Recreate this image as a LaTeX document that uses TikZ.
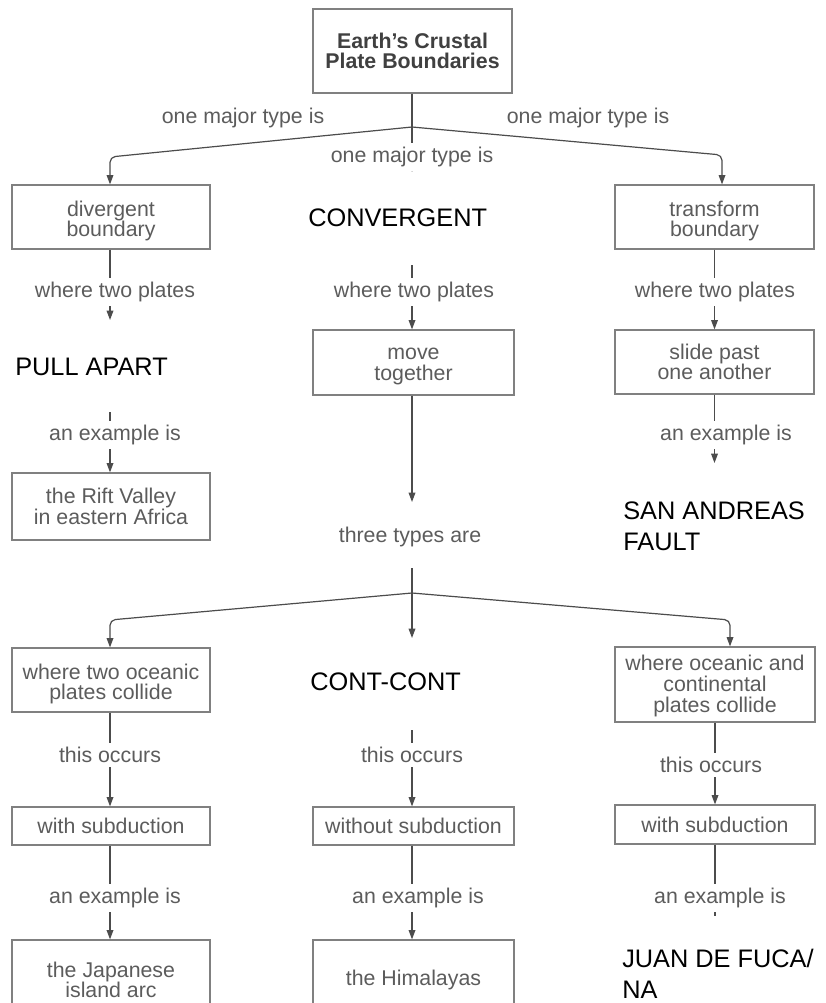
\documentclass[tikz,border=0pt]{standalone}
\usepackage{fontspec}
\setmainfont{Liberation Sans}
\usetikzlibrary{arrows.meta}
\definecolor{txtgray}{gray}{0.36}
\definecolor{linegray}{gray}{0.30}
\definecolor{boxgray}{gray}{0.50}
\newcommand\gfont{\fontsize{16}{15.5}\selectfont}
\newcommand\afont{\fontsize{19}{23.5}\selectfont}
\newcommand\dnstrut{\rule{0pt}{17.5pt}}
\tikzset{
  box/.style={draw=boxgray, line width=0.9pt, text=txtgray, align=center, inner sep=0pt, font=\gfont},
  lbl/.style={text=txtgray, fill=white, inner xsep=1pt, inner ysep=3pt, font=\gfont},
  ans/.style={text=black, align=left, inner sep=0pt, anchor=west, font=\afont},
  conn/.style={draw=linegray, line width=0.9pt, -{Triangle[length=7pt,width=5pt]}},
  plainline/.style={draw=linegray, line width=0.9pt},
}
\begin{document}
\begin{tikzpicture}[x=0.75pt, y=-0.75pt]
\fill[white] (0,0) rectangle (825,1003);
\useasboundingbox (0,0) rectangle (825,1003);

% boxes
\node[box, text=black!75, font=\gfont\bfseries, minimum width=199*0.75pt, minimum height=84*0.75pt] (title) at (412.5,51) {Earth's Crustal\\Plate Boundaries};
\node[box, minimum width=198*0.75pt, minimum height=64*0.75pt] (div) at (111,217) {\dnstrut divergent\\boundary};
\node[box, minimum width=199*0.75pt, minimum height=64*0.75pt] (trans) at (714.5,217) {\dnstrut transform\\boundary};
\node[box, minimum width=201*0.75pt, minimum height=65*0.75pt] (move) at (413.5,362.5) {\rule{0pt}{15pt}move\\together};
\node[box, minimum width=199*0.75pt, minimum height=64*0.75pt] (slide) at (714.5,362) {slide past\\one another};
\node[box, minimum width=198*0.75pt, minimum height=67*0.75pt] (rift) at (111,506.5) {the Rift Valley\\in eastern Africa};
\node[box, minimum width=198*0.75pt, minimum height=64*0.75pt] (oce) at (111,680) {\dnstrut where two oceanic\\plates collide};
\node[box, minimum width=200*0.75pt, minimum height=75*0.75pt] (ocont) at (715,684.5) {\rule{0pt}{14pt}where oceanic and\\continental\\plates collide};
\node[box, minimum width=198*0.75pt, minimum height=38*0.75pt] (withsub1) at (111,826) {with subduction};
\node[box, minimum width=201*0.75pt, minimum height=38*0.75pt] (without) at (413.5,826) {without subduction};
\node[box, minimum width=200*0.75pt, minimum height=39*0.75pt] (withsub2) at (715,824.5) {with subduction};
\node[box, minimum width=198*0.75pt, minimum height=80*0.75pt] (japan) at (111,980) {the Japanese\\island arc};
\node[box, minimum width=201*0.75pt, minimum height=80*0.75pt] (hima) at (413.5,980) {the Himalayas};

% answers
\node[ans] (pull) at (15,367) {PULL APART};
\node[ans] (conv) at (308,218) {CONVERGENT};
\node[ans] (san) at (623,526) {SAN ANDREAS\\FAULT};
\node[ans] (cc) at (310,682) {CONT-CONT};
\node[ans] (juan) at (622,974) {JUAN DE FUCA/\\NA};

% coordinates
\coordinate (br1) at (412,127);
\coordinate (cl1) at (110,157);
\coordinate (cr1) at (722,155);
\coordinate (t1) at (412,172);
\coordinate (s1) at (110,320);
\coordinate (s2) at (110,412);
\coordinate (s3) at (412,265);
\coordinate (s4) at (412,502);
\coordinate (s5) at (714.5,463);
\coordinate (s6) at (412,568);
\coordinate (s7) at (412,638);
\coordinate (br2) at (412,593);
\coordinate (cl2) at (110,620);
\coordinate (cr2) at (730,620);
\coordinate (s8) at (412,730);
\coordinate (s9) at (715,916);

% connectors
\draw[conn] (title.south -| t1) -- (t1);
\draw[conn, rounded corners=4pt] (br1) -- (cl1) -- (cl1 |- div.north);
\draw[conn, rounded corners=4pt] (br1) -- (cr1) -- (cr1 |- trans.north);
\draw[conn] (div.south -| s1) -- (s1);
\draw[conn] (s2) -- (s2 |- rift.north);
\draw[conn] (s3) -- (s3 |- move.north);
\draw[conn] (s4 |- move.south) -- (s4);
\draw[conn] (trans.south) -- (slide.north);
\draw[conn] (slide.south) -- (s5);
\draw[conn] (s6) -- (s7);
\draw[conn, rounded corners=4pt] (br2) -- (cl2) -- (cl2 |- oce.north);
\draw[conn, rounded corners=4pt] (br2) -- (cr2) -- (cr2 |- ocont.north);
\draw[conn] (oce.south -| cl2) -- (cl2 |- withsub1.north);
\draw[conn] (withsub1.south -| cl2) -- (cl2 |- japan.north);
\draw[conn] (s8) -- (s8 |- without.north);
\draw[conn] (without.south -| s8) -- (s8 |- hima.north);
\draw[conn] (ocont.south) -- (withsub2.north);
\draw[plainline] (withsub2.south -| s9) -- (s9);

% labels
\node[lbl] (l1) at (243,118) {one major type is};
\node[lbl] (l2) at (588,118) {one major type is};
\node[lbl] (l3) at (412,157) {one major type is};
\node[lbl] (l4) at (115,292) {where two plates};
\node[lbl] (l5) at (414,292) {where two plates};
\node[lbl] (l6) at (715,292) {where two plates};
\node[lbl] (l7) at (115,435) {an example is};
\node[lbl] (l8) at (726,435) {an example is};
\node[lbl] (l9) at (410,537) {three types are};
\node[lbl] (l10) at (110,755) {this occurs};
\node[lbl] (l11) at (412,755) {this occurs};
\node[lbl] (l12) at (711,765) {this occurs};
\node[lbl] (l13) at (115,898) {an example is};
\node[lbl] (l14) at (418,898) {an example is};
\node[lbl] (l15) at (720,898) {an example is};
\end{tikzpicture}
\end{document}
